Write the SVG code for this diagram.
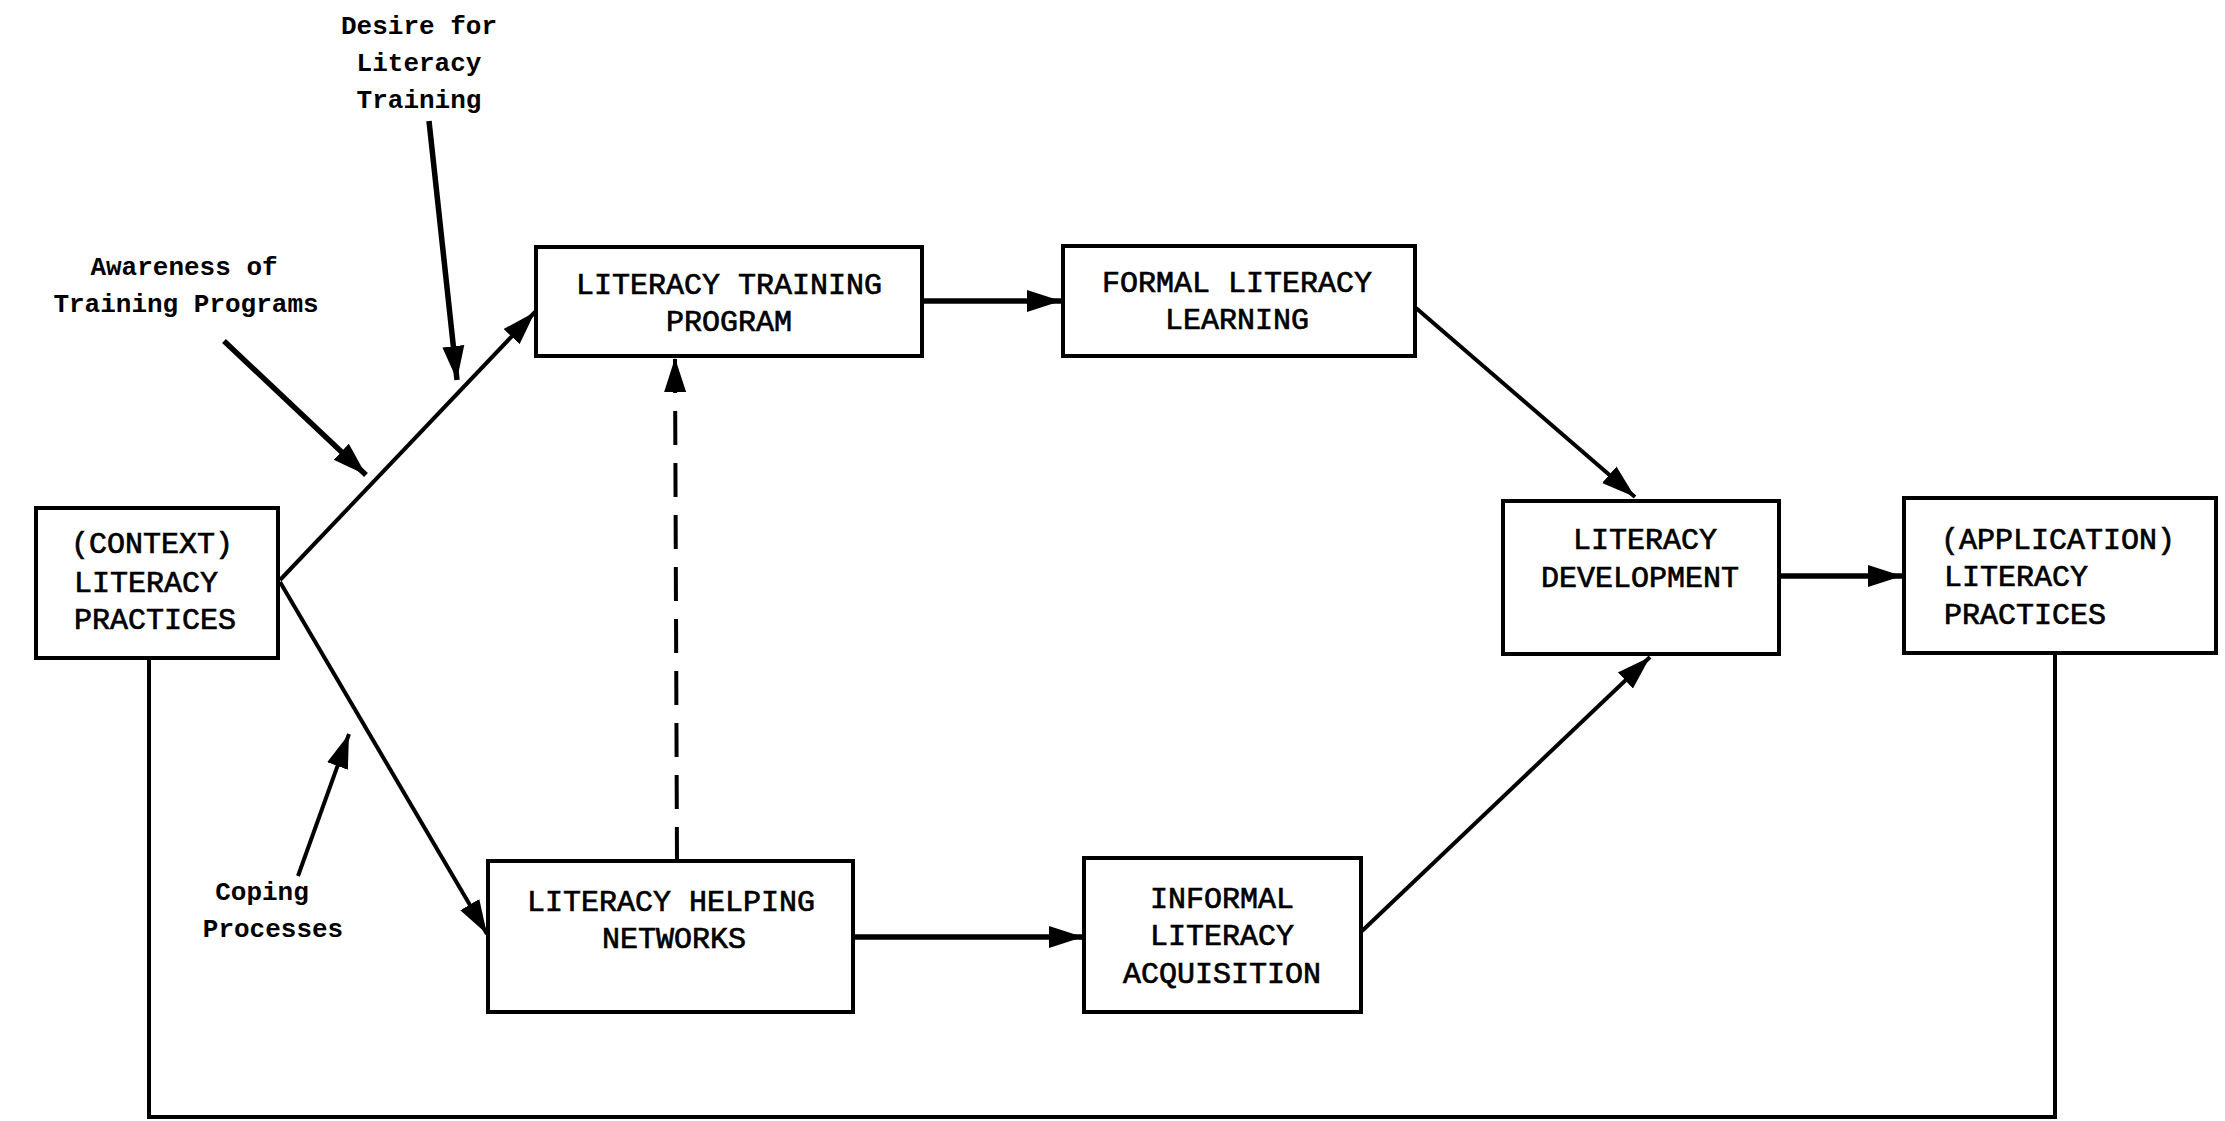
<svg xmlns="http://www.w3.org/2000/svg" width="2225" height="1121" viewBox="0 0 2225 1121">
<style>
.box{fill:#fff;stroke:#000;stroke-width:4}
.bt{font-family:"Liberation Mono","Courier New",monospace;font-size:30px;fill:#000;text-anchor:middle;stroke:#000;stroke-width:0.7}
.lt{font-family:"Liberation Mono","Courier New",monospace;font-size:26px;font-weight:bold;fill:#000;text-anchor:middle}
.c{fill:none;stroke:#000;stroke-width:4}
.t{fill:none;stroke:#000;stroke-width:5.5}
.d{fill:none;stroke:#000;stroke-width:4;stroke-dasharray:34 18}
</style>
<defs>
<marker id="ah" markerUnits="userSpaceOnUse" markerWidth="36" markerHeight="26" refX="34" refY="13" orient="auto">
<path d="M0,2 L34,13 L0,24 Z" fill="#000"/>
</marker>
</defs>
<rect width="2225" height="1121" fill="#fff"/>
<g id="connectors">
<line class="c" x1="280" y1="580" x2="535" y2="312" marker-end="url(#ah)"/>
<line class="c" x1="280" y1="582" x2="487" y2="934" marker-end="url(#ah)"/>
<line class="t" x1="224" y1="341" x2="366" y2="475" marker-end="url(#ah)"/>
<line class="t" x1="429" y1="121" x2="457" y2="380" marker-end="url(#ah)"/>
<line class="c" x1="298" y1="876" x2="349" y2="734" marker-end="url(#ah)"/>
<line class="d" x1="677" y1="861" x2="675" y2="358" marker-end="url(#ah)"/>
<line class="t" x1="924" y1="301" x2="1061" y2="301" marker-end="url(#ah)"/>
<line class="c" x1="1416" y1="308" x2="1635" y2="497" marker-end="url(#ah)"/>
<line class="t" x1="854" y1="937" x2="1083" y2="937" marker-end="url(#ah)"/>
<line class="c" x1="1362" y1="931" x2="1650" y2="657" marker-end="url(#ah)"/>
<line class="t" x1="1781" y1="576" x2="1902" y2="576" marker-end="url(#ah)"/>
<polyline class="c" points="2055,653 2055,1117 149,1117 149,658"/>
</g>
<g id="context">
<rect class="box" x="36" y="508" width="242" height="150"/>
<text class="bt" x="152" y="553">(CONTEXT)</text>
<text class="bt" x="146" y="592">LITERACY</text>
<text class="bt" x="155" y="629">PRACTICES</text>
</g>
<g id="ltp">
<rect class="box" x="536" y="247" width="386" height="109"/>
<text class="bt" x="729" y="294">LITERACY TRAINING</text>
<text class="bt" x="729" y="331">PROGRAM</text>
</g>
<g id="fll">
<rect class="box" x="1063" y="246" width="352" height="110"/>
<text class="bt" x="1237" y="292">FORMAL LITERACY</text>
<text class="bt" x="1237" y="329">LEARNING</text>
</g>
<g id="ld">
<rect class="box" x="1503" y="501" width="276" height="153"/>
<text class="bt" x="1645" y="549">LITERACY</text>
<text class="bt" x="1640" y="587">DEVELOPMENT</text>
</g>
<g id="app">
<rect class="box" x="1904" y="498" width="312" height="155"/>
<text class="bt" x="2058" y="549">(APPLICATION)</text>
<text class="bt" x="2016" y="586">LITERACY</text>
<text class="bt" x="2025" y="624">PRACTICES</text>
</g>
<g id="lhn">
<rect class="box" x="488" y="861" width="365" height="151"/>
<text class="bt" x="671" y="911">LITERACY HELPING</text>
<text class="bt" x="674" y="948">NETWORKS</text>
</g>
<g id="ila">
<rect class="box" x="1084" y="858" width="277" height="154"/>
<text class="bt" x="1222" y="908">INFORMAL</text>
<text class="bt" x="1222" y="945">LITERACY</text>
<text class="bt" x="1222" y="983">ACQUISITION</text>
</g>
<g id="labels">
<text class="lt" x="419" y="34">Desire for</text>
<text class="lt" x="419" y="71">Literacy</text>
<text class="lt" x="419" y="108">Training</text>
<text class="lt" x="184" y="275">Awareness of</text>
<text class="lt" x="186" y="312">Training Programs</text>
<text class="lt" x="262" y="900">Coping</text>
<text class="lt" x="273" y="937">Processes</text>
</g>
</svg>
